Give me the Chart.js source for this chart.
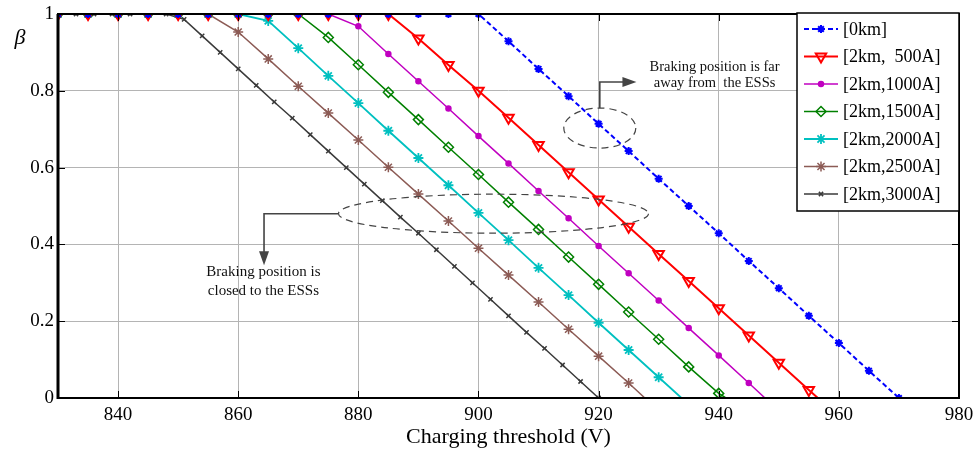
<!DOCTYPE html>
<html>
<head>
<meta charset="utf-8">
<title>Charging threshold vs beta</title>
<script src="https://cdn.jsdelivr.net/npm/chart.js@4.4.0/dist/chart.umd.min.js"></script>
<style>
  html, body { margin: 0; padding: 0; background: #fff; }
</style>
</head>
<body>
<canvas id="chart" width="974" height="452"></canvas>
<script>
// axis ticks
const xTicks = [840, 860, 880, 900, 920, 940, 960, 980];
const yTicks = [0, 0.2, 0.4, 0.6, 0.8, 1];

const seriesNames = ['[0km]', '[2km,  500A]', '[2km,1000A]', '[2km,1500A]', '[2km,2000A]', '[2km,2500A]', '[2km,3000A]'];

// [0km]
const x0km = [830, 835, 840, 845, 850, 855, 860, 865, 870, 875, 880, 885, 890, 895, 900, 905, 910, 915, 920, 925, 930, 935, 940, 945, 950, 955, 960, 965, 970];
const y0km = [1, 1, 1, 1, 1, 1, 1, 1, 1, 1, 1, 1, 1, 1, 1, 0.929, 0.857, 0.786, 0.714, 0.643, 0.571, 0.5, 0.429, 0.357, 0.286, 0.214, 0.143, 0.071, 0];

// [2km, 500A]
const x500 = [830, 835, 840, 845, 850, 855, 860, 865, 870, 875, 880, 885, 890, 895, 900, 905, 910, 915, 920, 925, 930, 935, 940, 945, 950, 955, 956.5];
const y500 = [1, 1, 1, 1, 1, 1, 1, 1, 1, 1, 1, 1, 0.936, 0.867, 0.8, 0.73, 0.659, 0.588, 0.517, 0.446, 0.375, 0.305, 0.234, 0.163, 0.092, 0.021, 0];

// [2km,1000A]
const x1000 = [830, 835, 840, 845, 850, 855, 860, 865, 870, 875, 880, 885, 890, 895, 900, 905, 910, 915, 920, 925, 930, 935, 940, 945, 947.7];
const y1000 = [1, 1, 1, 1, 1, 1, 1, 1, 1, 1, 0.968, 0.896, 0.825, 0.754, 0.682, 0.611, 0.539, 0.468, 0.396, 0.325, 0.254, 0.182, 0.111, 0.039, 0];

// [2km,1500A]
const x1500 = [830, 835, 840, 845, 850, 855, 860, 865, 870, 875, 880, 885, 890, 895, 900, 905, 910, 915, 920, 925, 930, 935, 940, 941.2];
const y1500 = [1, 1, 1, 1, 1, 1, 1, 1, 1, 0.939, 0.868, 0.796, 0.725, 0.653, 0.582, 0.51, 0.439, 0.367, 0.296, 0.224, 0.153, 0.081, 0.012, 0];

// [2km,2000A]
const x2000 = [830, 835, 840, 845, 850, 855, 860, 865, 870, 875, 880, 885, 890, 895, 900, 905, 910, 915, 920, 925, 930, 933.8];
const y2000 = [1, 1, 1, 1, 1, 1, 1, 0.982, 0.911, 0.839, 0.768, 0.696, 0.625, 0.554, 0.482, 0.411, 0.339, 0.268, 0.196, 0.125, 0.054, 0];

// [2km,2500A]
const x2500 = [830, 835, 840, 845, 850, 855, 860, 865, 870, 875, 880, 885, 890, 895, 900, 905, 910, 915, 920, 925, 927.7];
const y2500 = [1, 1, 1, 1, 1, 1, 0.953, 0.883, 0.812, 0.742, 0.672, 0.601, 0.531, 0.461, 0.39, 0.32, 0.25, 0.179, 0.109, 0.039, 0];

// [2km,3000A]
const x3000 = [830, 833, 836, 839, 842, 845, 848, 851, 854, 857, 860, 863, 866, 869, 872, 875, 878, 881, 884, 887, 890, 893, 896, 899, 902, 905, 908, 911, 914, 917, 920];
const y3000 = [1, 1, 1, 1, 1, 1, 1, 0.986, 0.943, 0.9, 0.857, 0.814, 0.771, 0.729, 0.686, 0.643, 0.6, 0.557, 0.514, 0.471, 0.429, 0.386, 0.343, 0.3, 0.257, 0.214, 0.171, 0.129, 0.086, 0.043, 0];

const xSeries = [x0km, x500, x1000, x1500, x2000, x2500, x3000];
const ySeries = [y0km, y500, y1000, y1500, y2000, y2500, y3000];

// styles (marker spacing tells which points carry a marker)
const styles = [
  { color: '#0000ff', style: 'star', radius: 4, width: 2, dash: [5, 3], step: 5 },
  { color: '#ff0000', style: 'triangle', rotation: 180, radius: 6, width: 2, dash: [], step: 5 },
  { color: '#c000c0', style: 'circle', radius: 2.5, width: 1.5, dash: [], step: 5, fill: true },
  { color: '#008000', style: 'rectRot', radius: 5, width: 1.5, dash: [], step: 5 },
  { color: '#00c0c0', style: 'star', radius: 5, width: 1.8, dash: [], step: 5 },
  { color: '#8c5b55', style: 'star', radius: 5, width: 1.5, dash: [], step: 5 },
  { color: '#3a3a3a', style: 'crossRot', radius: 3, width: 1.5, dash: [], step: 3 }
];

const serif = "'Liberation Serif', 'Times New Roman', serif";

const datasets = seriesNames.map((name, i) => {
  const s = styles[i];
  return {
    label: name,
    data: xSeries[i].map((xv, j) => ({ x: xv, y: ySeries[i][j] })),
    borderColor: s.color,
    backgroundColor: s.fill ? s.color : 'rgba(0,0,0,0)',
    borderWidth: s.width,
    borderDash: s.dash,
    pointStyle: s.style,
    pointRotation: s.rotation || 0,
    pointBorderColor: s.color,
    pointBackgroundColor: s.fill ? s.color : 'rgba(0,0,0,0)',
    pointBorderWidth: s.width,
    pointRadius: ctx => {
      const xv = ctx.raw ? ctx.raw.x : 0;
      return Number.isInteger((xv - 830) / s.step) ? s.radius : 0;
    },
    pointHoverRadius: 0,
    tension: 0
  };
});

function line(ctx, x1, y1, x2, y2) {
  ctx.beginPath();
  ctx.moveTo(x1, y1);
  ctx.lineTo(x2, y2);
  ctx.stroke();
}

function arrowHead(ctx, x, y, dir) {
  // dir: 'right' or 'down'
  ctx.beginPath();
  if (dir === 'right') {
    ctx.moveTo(x, y);
    ctx.lineTo(x - 14, y - 5);
    ctx.lineTo(x - 14, y + 5);
  } else {
    ctx.moveTo(x, y);
    ctx.lineTo(x - 5, y - 14);
    ctx.lineTo(x + 5, y - 14);
  }
  ctx.closePath();
  ctx.fill();
}

const decor = {
  id: 'decor',
  afterDraw(chart) {
    const { ctx, chartArea: a, scales: { x, y } } = chart;
    ctx.save();

    // inside tick marks
    ctx.strokeStyle = '#000';
    ctx.lineWidth = 1;
    ctx.setLineDash([]);
    xTicks.forEach(v => {
      const px = Math.round(x.getPixelForValue(v)) + 0.5;
      line(ctx, px, a.bottom, px, a.bottom - 7);
      line(ctx, px, a.top, px, a.top + 7);
    });
    yTicks.forEach(v => {
      const py = Math.round(y.getPixelForValue(v)) + 0.5;
      line(ctx, a.left, py, a.left + 7, py);
      line(ctx, a.right, py, a.right - 7, py);
    });

    // frame
    ctx.lineWidth = 2;
    ctx.strokeRect(a.left, a.top, a.right - a.left, a.bottom - a.top);
    ctx.lineWidth = 3;
    line(ctx, a.left, a.top, a.left, a.bottom + 1);

    // annotation: far from ESSs
    ctx.strokeStyle = '#444';
    ctx.fillStyle = '#444';
    ctx.lineWidth = 1.2;
    ctx.setLineDash([7, 5]);
    let cx = x.getPixelForValue(920.2), cy = y.getPixelForValue(0.703);
    ctx.beginPath();
    ctx.ellipse(cx, cy, 36, 20, 0, 0, Math.PI * 2);
    ctx.stroke();
    ctx.setLineDash([]);
    ctx.lineWidth = 1.6;
    const yTurn = y.getPixelForValue(0.823);
    const xTip = x.getPixelForValue(926.3);
    ctx.beginPath();
    ctx.moveTo(cx, cy - 20);
    ctx.lineTo(cx, yTurn);
    ctx.lineTo(xTip - 10, yTurn);
    ctx.stroke();
    arrowHead(ctx, xTip, yTurn, 'right');

    ctx.fillStyle = '#111';
    ctx.font = '14.5px ' + serif;
    ctx.textAlign = 'center';
    ctx.textBaseline = 'middle';
    const tx1 = x.getPixelForValue(939.3);
    ctx.fillText('Braking position is far', tx1, y.getPixelForValue(0.862));
    ctx.fillText('away from  the ESSs', tx1, y.getPixelForValue(0.82));

    // annotation: close to ESSs
    ctx.strokeStyle = '#444';
    ctx.fillStyle = '#444';
    ctx.lineWidth = 1.2;
    ctx.setLineDash([7, 5]);
    cx = x.getPixelForValue(902.5); cy = y.getPixelForValue(0.48);
    ctx.beginPath();
    ctx.ellipse(cx, cy, 155, 19.5, 0, 0, Math.PI * 2);
    ctx.stroke();
    ctx.setLineDash([]);
    ctx.lineWidth = 1.6;
    const xTurn = x.getPixelForValue(864.3);
    const yTip = y.getPixelForValue(0.346);
    ctx.beginPath();
    ctx.moveTo(cx - 155, cy);
    ctx.lineTo(xTurn, cy);
    ctx.lineTo(xTurn, yTip - 10);
    ctx.stroke();
    arrowHead(ctx, xTurn, yTip, 'down');

    ctx.fillStyle = '#111';
    ctx.font = '15px ' + serif;
    const tx2 = x.getPixelForValue(864.2);
    ctx.fillText('Braking position is', tx2, y.getPixelForValue(0.328));
    ctx.fillText('closed to the ESSs', tx2, y.getPixelForValue(0.279));

    // beta label
    ctx.font = 'italic 22px ' + serif;
    ctx.fillStyle = '#000';
    ctx.fillText('\u03B2', 20, 38);

    // legend box
    const lw = 162, lh = 198;
    const lx = a.right - lw, ly = a.top - 1;
    ctx.fillStyle = '#fff';
    ctx.fillRect(lx, ly, lw, lh);
    ctx.strokeStyle = '#000';
    ctx.lineWidth = 1.5;
    ctx.strokeRect(lx, ly, lw, lh);
    ctx.font = '18px ' + serif;
    ctx.textAlign = 'left';
    chart.data.datasets.forEach((ds, i) => {
      const s = styles[i];
      const ey = ly + 16 + i * 27.5;
      ctx.strokeStyle = s.color;
      ctx.lineWidth = s.width;
      ctx.setLineDash(s.dash);
      line(ctx, lx + 7, ey, lx + 41, ey);
      ctx.setLineDash([]);
      ctx.fillStyle = s.fill ? s.color : 'rgba(0,0,0,0)';
      Chart.helpers.drawPoint(ctx, {
        pointStyle: s.style,
        rotation: s.rotation || 0,
        radius: s.radius,
        borderWidth: s.width
      }, lx + 24, ey);
      ctx.fillStyle = '#000';
      ctx.fillText(ds.label, lx + 46, ey + 1);
    });

    ctx.restore();
  }
};

new Chart(document.getElementById('chart'), {
  type: 'line',
  data: { datasets },
  options: {
    responsive: false,
    devicePixelRatio: 1,
    animation: false,
    layout: { padding: { left: 0, right: 15, top: 14, bottom: 0 } },
    plugins: { legend: { display: false }, tooltip: { enabled: false } },
    scales: {
      x: {
        type: 'linear',
        min: 830,
        max: 980,
        afterBuildTicks: s => { s.ticks = xTicks.map(v => ({ value: v })); },
        afterFit: s => { s.height = 54; s.paddingLeft = 0; s.paddingRight = 0; },
        grid: { color: '#b4b4b4', lineWidth: 1, drawTicks: false },
        border: { display: false },
        ticks: { color: '#000', padding: 6, font: { family: serif, size: 19 } },
        title: {
          display: true,
          text: 'Charging threshold (V)',
          color: '#000',
          font: { family: serif, size: 22 },
          padding: { top: 0, bottom: 2 }
        }
      },
      y: {
        min: 0,
        max: 1,
        afterBuildTicks: s => { s.ticks = yTicks.map(v => ({ value: v })); },
        afterFit: s => { s.width = 58; s.paddingTop = 0; s.paddingBottom = 0; },
        grid: { color: '#b4b4b4', lineWidth: 1, drawTicks: false },
        border: { display: false },
        ticks: { color: '#000', padding: 4, font: { family: serif, size: 19 }, callback: v => String(v) }
      }
    }
  },
  plugins: [decor]
});
</script>
</body>
</html>
